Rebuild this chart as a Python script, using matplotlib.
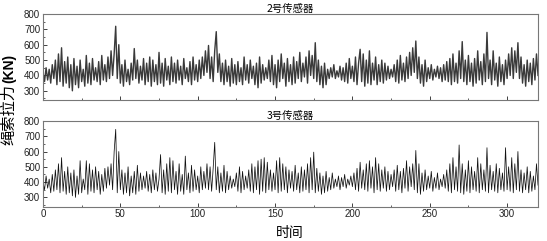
import matplotlib
matplotlib.use("Agg")
import matplotlib.pyplot as plt
from matplotlib.ticker import MultipleLocator

plt.rcParams['font.family'] = ['Liberation Sans', 'Noto Sans CJK SC', 'DejaVu Sans']

time = list(range(0, 321))

sensor2 = [
    420,360,450,370,440,350,470,380,500,340,540,360,580,330,490,350,520,320,470,300,
    510,340,460,320,500,360,440,330,530,350,480,340,510,370,450,360,490,340,530,370,
    470,360,520,380,560,400,540,720,380,600,350,470,330,500,360,440,340,480,370,575,
    380,500,350,460,370,510,340,480,360,520,330,500,360,470,340,550,350,480,330,510,
    370,460,340,520,360,480,350,500,370,460,340,510,380,450,360,490,340,520,370,470,
    360,500,380,520,400,560,420,595,380,520,360,560,685,420,540,360,480,340,500,360,
    460,330,510,350,470,340,490,360,450,340,520,370,470,350,500,380,460,340,480,320,
    520,350,470,370,450,380,500,360,530,340,470,320,500,360,540,380,480,330,510,360,
    470,340,520,350,490,380,550,360,480,390,520,350,560,400,530,380,613,360,500,340,
    460,320,480,340,440,380,450,390,470,380,430,390,460,370,450,360,480,350,510,380,
    460,360,520,340,480,570,360,540,330,500,350,560,340,480,370,520,340,470,360,500,
    350,480,370,460,380,440,390,470,360,500,350,530,370,480,360,520,380,550,400,580,
    420,624,380,520,350,470,330,500,360,450,380,470,370,440,390,460,380,450,360,470,
    370,490,360,510,340,540,360,480,350,560,380,620,360,500,340,530,360,480,330,510,
    350,560,370,490,340,540,360,680,380,500,340,560,370,480,330,520,360,470,340,500,
    380,540,400,580,380,560,420,613,380,520,350,470,330,500,360,480,340,510,370,540,
    400,
]

sensor3 = [
    400,350,440,360,420,330,450,340,480,350,520,330,560,340,470,320,500,330,460,310,
    480,300,440,320,540,330,420,350,540,320,520,340,480,330,500,350,470,320,450,340,
    490,360,500,380,520,350,600,745,330,600,350,480,320,460,330,500,310,440,330,470,
    320,510,340,460,350,440,360,470,340,450,330,480,350,460,340,420,580,330,480,320,
    520,340,560,330,540,350,470,320,520,340,450,320,570,350,460,330,510,340,480,350,
    440,330,500,350,470,360,520,350,500,340,490,660,350,500,330,460,340,510,330,470,
    350,440,360,420,370,460,340,500,330,470,350,440,360,480,340,520,330,500,350,540,
    320,550,340,560,330,530,350,480,340,460,350,540,330,560,340,520,350,500,330,480,
    360,470,340,510,350,460,330,500,340,480,350,520,330,560,350,596,330,490,340,460,
    320,440,330,470,340,430,350,460,360,420,370,440,350,430,370,450,360,420,380,440,
    370,460,350,490,340,530,360,480,350,520,340,540,360,500,330,560,350,520,340,480,
    360,500,340,470,350,450,370,480,340,510,350,470,330,490,360,540,340,500,370,520,
    350,607,330,520,320,460,340,480,350,440,360,470,340,430,360,460,350,420,370,450,
    360,480,340,520,330,560,350,500,340,643,330,520,320,480,340,540,330,500,350,470,
    340,560,330,520,350,480,340,625,330,510,350,470,340,520,330,490,350,460,340,625,
    350,500,340,560,330,520,350,600,340,480,330,460,350,500,330,470,340,440,350,520,
    380,
]

titles = ["2号传感器", "3号传感器"]
yticks = [300, 400, 500, 600, 700, 800]
xticks = [0, 50, 100, 150, 200, 250, 300]

fig = plt.figure(figsize=(5.47, 2.41), dpi=100)
ax1 = fig.add_axes([0.0786, 0.585, 0.905, 0.357])
ax2 = fig.add_axes([0.0786, 0.143, 0.905, 0.355])

for ax, data, title, lw, col in [(ax1, sensor2, titles[0], 1.0, '#3a3a3a'),
                                 (ax2, sensor3, titles[1], 0.55, '#111111')]:
    ax.plot(time, data, color=col, linewidth=lw)
    ax.set_xlim(0, 320)
    ax.set_ylim(240, 800)
    ax.set_yticks(yticks)
    ax.set_xticks(xticks)
    ax.xaxis.set_minor_locator(MultipleLocator(25))
    ax.yaxis.set_minor_locator(MultipleLocator(50))
    ax.tick_params(direction='in', which='both', labelsize=7, colors='#222222',
                   pad=2, top=False, right=False)
    ax.tick_params(which='major', length=3, width=0.6)
    ax.tick_params(which='minor', length=1.5, width=0.5)
    for s in ax.spines.values():
        s.set_color('#777777')
        s.set_linewidth(0.8)
    ax.set_title(title, fontsize=7.5, pad=1.5, family=['Noto Sans CJK SC', 'DejaVu Sans'])

ax1.tick_params(labelbottom=False)

y0 = 1 - 83 / 241
fig.text(0.016, y0, "(KN)", rotation=90, va='bottom', ha='center',
         fontsize=10, fontweight='bold', family=['Liberation Sans', 'DejaVu Sans'])
fig.text(0.016, y0 - 0.005, "绳索拉力", rotation=90, va='top', ha='center',
         fontsize=11, family=['Noto Sans CJK SC', 'DejaVu Sans'])
fig.text(0.53, 0.035, "时间", va='center', ha='center', fontsize=10,
         family=['Noto Sans CJK SC', 'DejaVu Sans'])

fig.savefig("out.png", dpi=100)
